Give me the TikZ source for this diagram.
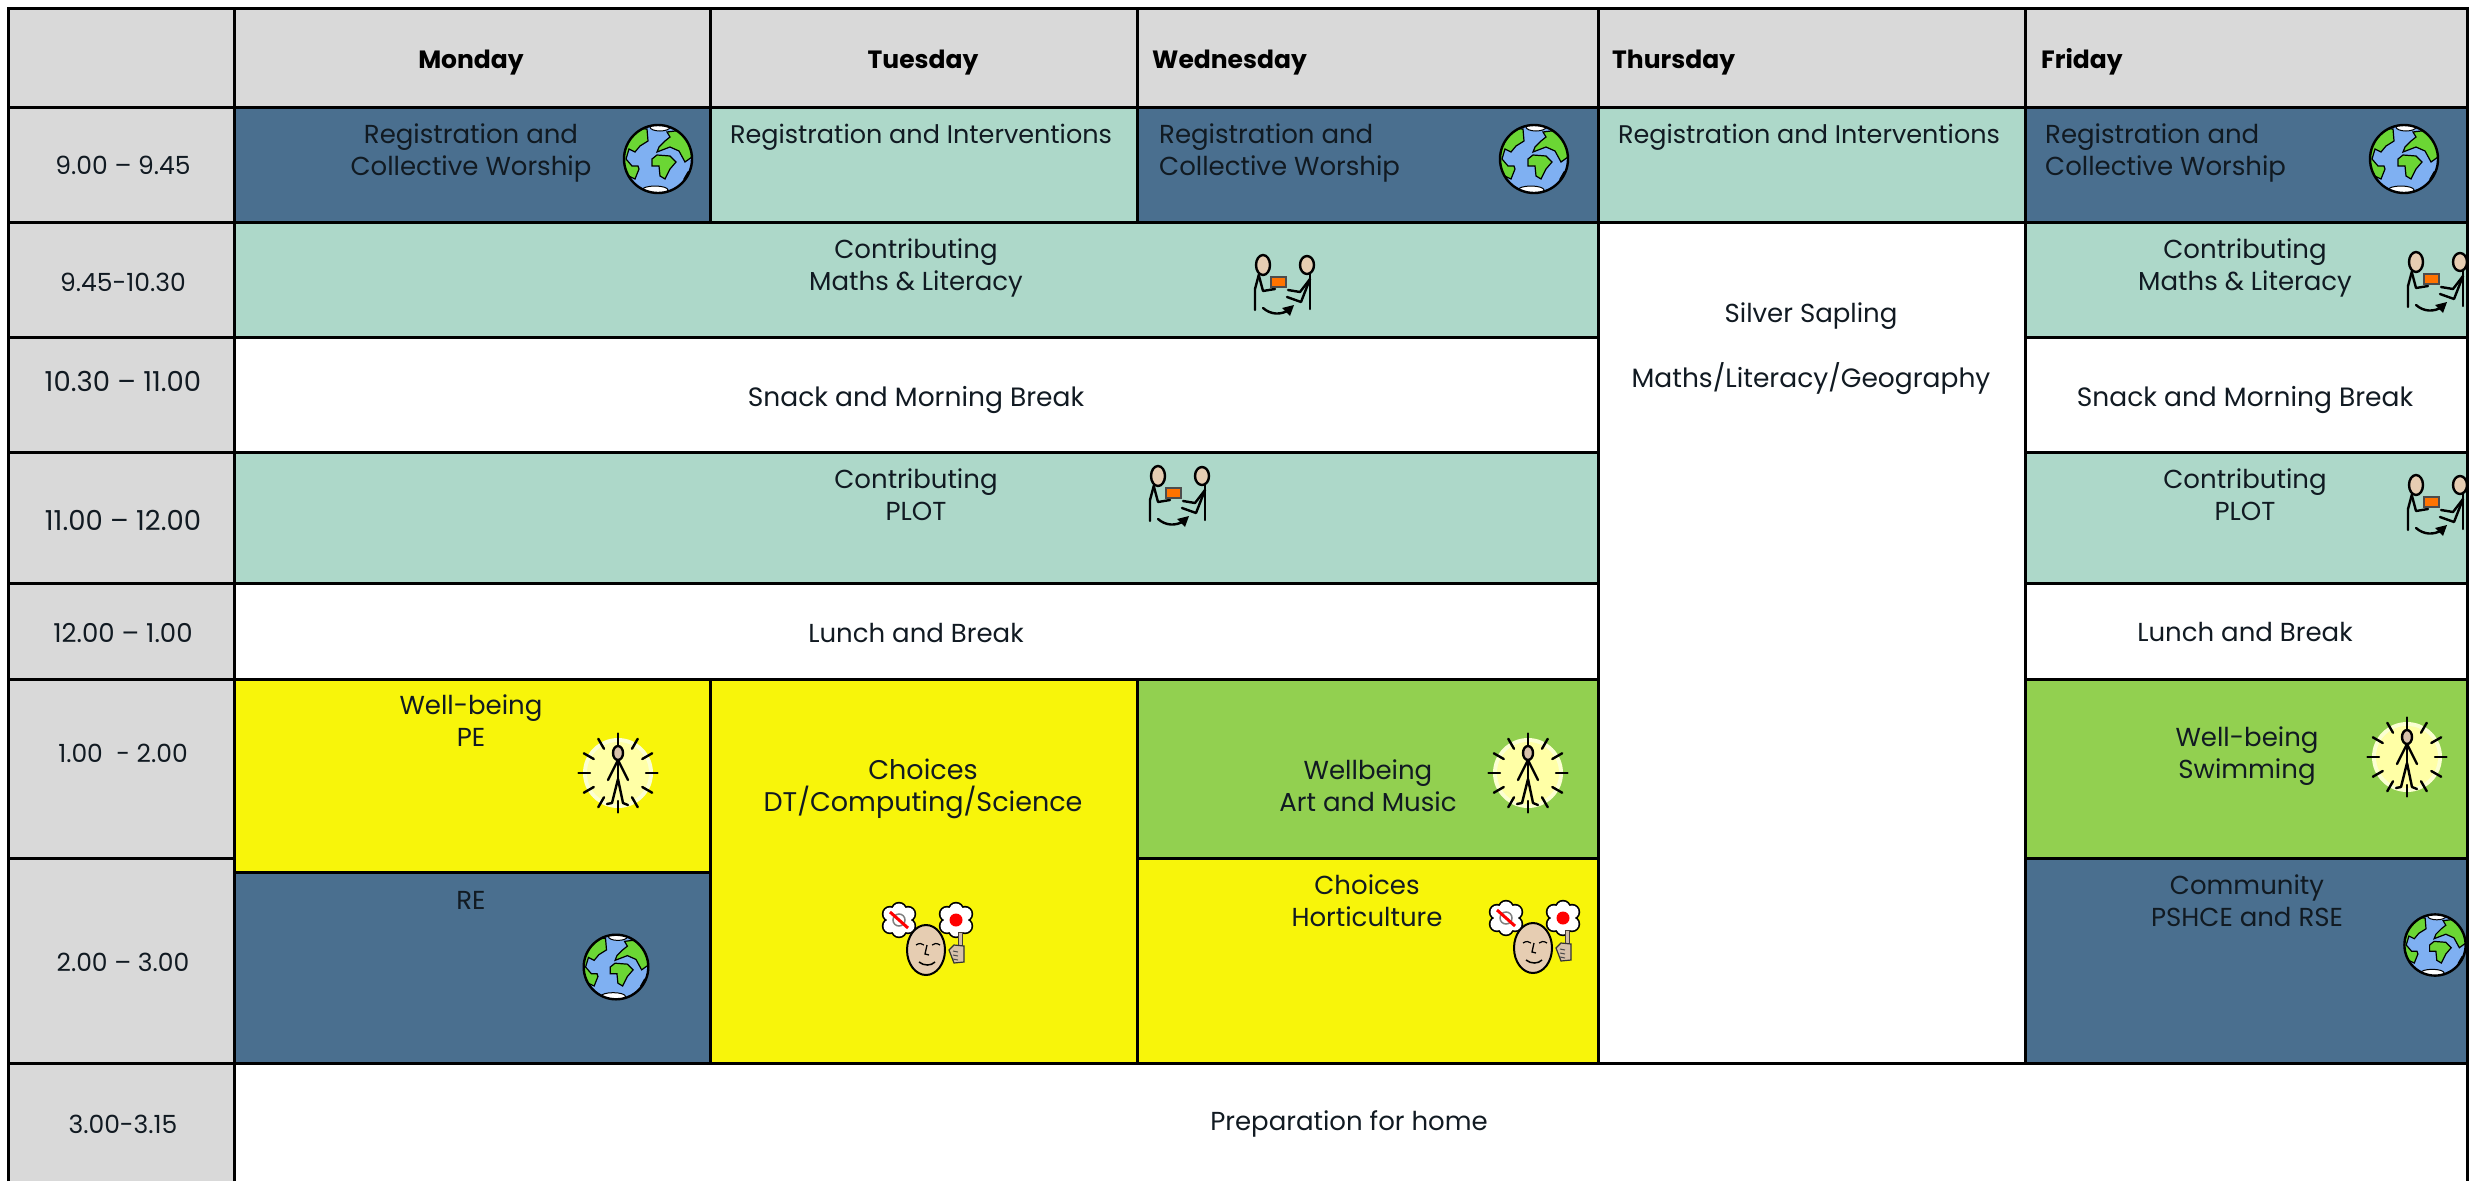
\documentclass[tikz,border=0pt]{standalone}
\usepackage{fontspec}
\setmainfont{Poppins}
\definecolor{hdr}{HTML}{D9D9D9}
\definecolor{navy}{HTML}{4A6F8F}
\definecolor{mint}{HTML}{ADD8C9}
\definecolor{yel}{HTML}{F8F50A}
\definecolor{grn}{HTML}{92D050}
\definecolor{skin}{HTML}{E6CDB2}
\definecolor{oceanb}{HTML}{7FB0F2}
\definecolor{landg}{HTML}{6BD634}
\definecolor{glow}{HTML}{FFFFA6}
\definecolor{glowedge}{HTML}{FCFFD2}
\definecolor{ink}{HTML}{111A22}
\tikzset{
  cell/.style={draw=black,line width=3pt},
  txt/.style={font=\fontsize{26}{32}\selectfont,align=center,inner sep=0pt,text=ink},
  lefttxt/.style={txt,align=left,anchor=west},
  headtxt/.style={font=\fontsize{25}{32}\selectfont\bfseries,inner sep=0pt,text=black},
  ico/.style={line width=2.4pt,draw=black,line cap=round,line join=round},
  globeicon/.pic={
    \begin{scope}
      \clip (0,0) circle (34);
      \fill[oceanb] (0,0) circle (34);
      \fill[landg,draw=black,line width=1.2pt] (-11,-30)--(-10,-18)--(-18,-13)--(-23,-7)--(-29,-10)--(-32,0)--(-26,7)--(-20,7)--(-19,10)--(-23,20)--(-40,12)--(-40,-32)--cycle;
      \fill[landg,draw=black,line width=1.2pt] (9,-27)--(17,-28)--(40,-28)--(40,0)--(34,-2)--(27,3)--(21,-8)--(12,-12)--(-1,-7)--(1,-12)--(7,-18)--(12,-22)--cycle;
      \fill[landg,draw=black,line width=1.2pt] (-6,0)--(-1,-4)--(12,-3)--(18,3)--(12,10)--(7,20)--(2,17)--(1,7)--(-6,7)--cycle;
      \fill[landg,draw=black,line width=1.2pt] (26,20)--(30,13)--(40,10)--(40,24)--cycle;
      \fill[white,draw=black,line width=1pt] (2,-32) ellipse (10 and 4);
      \fill[white,draw=black,line width=1pt] (-3,31) ellipse (13 and 4);
    \end{scope}
    \draw[black,line width=2.4pt] (0,0) circle (34);
  },
  swapicon/.pic={
    \draw[ico,fill=skin] (-20,-17) ellipse (7 and 10);
    \draw[ico,fill=skin] (24,-17) ellipse (7 and 9);
    \draw[ico] (-24,-8)--(-28,7)--(-28,28);
    \draw[ico] (-24,-6)--(-20,9)--(-8,7);
    \fill[orange!90!red,draw=black!70,line width=1.2pt] (-12,-5) rectangle (3,5);
    \draw[ico] (27,-8)--(27,27);
    \draw[ico] (27,-3)--(17,10)--(5,8);
    \draw[ico] (27,-3)--(18,20)--(4,15);
    \draw[ico] (-20,26) .. controls (-12,33) and (-2,33) .. (6,28);
    \fill[black] (11,23)--(-1,26)--(7,34)--cycle;
  },
  wellicon/.pic={
    \fill[glowedge] (1,1) circle (35);
    \fill[glow] (1,1) circle (31);
    \foreach \a in {0,30,...,330}{
      \draw[ico] (\a:28)++(1,1) -- ++(\a:11.5);
    }
    \draw[ico] (1,-12)--(1,7);
    \draw[ico] (-9,8)--(1,-12)--(11,8);
    \draw[ico] (-10,32)--(-5,31)--(1,7)--(6,31)--(11,33);
    \draw[ico,fill=skin!85!gray] (1,-19) ellipse (5 and 7);
  },
  choiceicon/.pic={
    \foreach \cx/\cy in {-29/-20,28/-20}{
      \begin{scope}[shift={(\cx,\cy)}]
        \draw[black,line width=3.4pt,fill=black] (9,-6) circle (6.5) (-9,-6) circle (6.5) (9,6) circle (6.5) (-9,6) circle (6.5) (0,-10) circle (6.5) (0,10) circle (6.5);
        \fill[white] (9,-6) circle (6.5) (-9,-6) circle (6.5) (9,6) circle (6.5) (-9,6) circle (6.5) (0,-10) circle (6.5) (0,10) circle (6.5) (0,0) circle (9);
      \end{scope}
    }
    \draw[gray,line width=1.5pt] (-29,-20) circle (6);
    \draw[red,line width=3pt] (-38,-28)--(-20,-12);
    \fill[red] (28,-20) circle (6.5);
    \draw[black,line width=2pt,fill=skin] (-2,10) ellipse (19 and 25);
    \draw[black,line width=1.2pt] (-12,5) .. controls (-9,3) and (-6,3) .. (-4,5);
    \draw[black,line width=1.2pt] (4,5) .. controls (6,3) and (9,3) .. (12,5);
    \draw[black,line width=1.3pt] (-1,5)--(-3,14)--(1,15);
    \draw[black,line width=1.5pt] (-9,22) .. controls (-4,26) and (3,26) .. (7,22);
    \draw[black!70!skin,line width=1pt,fill=skin!80!gray] (30,-8) rectangle (34,8);
    \draw[black!80,line width=1.2pt,fill=skin!85!gray] (21,10)--(26,5)--(36,6)--(36,22)--(26,23)--cycle;
    \draw[black!70,line width=1pt] (25,11)--(30,12) (25,15)--(30,16) (25,19)--(30,20);
  }
}
\begin{document}
\begin{tikzpicture}[x=1pt,y=-1pt]
\useasboundingbox (0,0) rectangle (2469,1181);
\fill[white] (0,0) rectangle (2469,1181);
% header row
\fill[hdr] (8,8) rectangle (234,1181);
\draw[cell,fill=hdr] (8,8) rectangle (234,107);
\draw[cell,fill=hdr] (234,8) rectangle (710,107);
\draw[cell,fill=hdr] (710,8) rectangle (1137,107);
\draw[cell,fill=hdr] (1137,8) rectangle (1598,107);
\draw[cell,fill=hdr] (1598,8) rectangle (2025,107);
\draw[cell,fill=hdr] (2025,8) rectangle (2467,107);
% time column
\draw[cell] (8,107) rectangle (234,222);
\draw[cell] (8,222) rectangle (234,337);
\draw[cell] (8,337) rectangle (234,452);
\draw[cell] (8,452) rectangle (234,583);
\draw[cell] (8,583) rectangle (234,679);
\draw[cell] (8,679) rectangle (234,858);
\draw[cell] (8,858) rectangle (234,1063);
\draw[cell] (8,1181) -- (8,1063) -- (234,1063) -- (234,1181);
% row 1
\draw[cell,fill=navy] (234,107) rectangle (710,222);
\draw[cell,fill=mint] (710,107) rectangle (1137,222);
\draw[cell,fill=navy] (1137,107) rectangle (1598,222);
\draw[cell,fill=mint] (1598,107) rectangle (2025,222);
\draw[cell,fill=navy] (2025,107) rectangle (2467,222);
% spans
\draw[cell,fill=mint] (234,222) rectangle (1598,337);
\draw[cell,fill=white] (234,337) rectangle (1598,452);
\draw[cell,fill=mint] (234,452) rectangle (1598,583);
\draw[cell,fill=white] (234,583) rectangle (1598,679);
\draw[cell,fill=white] (1598,222) rectangle (2025,1063);
\draw[cell,fill=mint] (2025,222) rectangle (2467,337);
\draw[cell,fill=white] (2025,337) rectangle (2467,452);
\draw[cell,fill=mint] (2025,452) rectangle (2467,583);
\draw[cell,fill=white] (2025,583) rectangle (2467,679);
% afternoon
\draw[cell,fill=yel] (234,679) rectangle (710,872);
\draw[cell,fill=navy] (234,872) rectangle (710,1063);
\draw[cell,fill=yel] (710,679) rectangle (1137,1063);
\draw[cell,fill=grn] (1137,679) rectangle (1598,858);
\draw[cell,fill=yel] (1137,858) rectangle (1598,1063);
\draw[cell,fill=grn] (2025,679) rectangle (2467,858);
\draw[cell,fill=navy] (2025,858) rectangle (2467,1063);
\draw[cell] (234,1181) -- (234,1063) -- (2467,1063) -- (2467,1181);
% headers
\node[headtxt] (hmon) at (471,63) {Monday};
\node[headtxt] (htue) at (923,63) {Tuesday};
\node[headtxt,anchor=west] (hwed) at (1152,63) {Wednesday};
\node[headtxt,anchor=west] (hthu) at (1612,63) {Thursday};
\node[headtxt,anchor=west] (hfri) at (2041,62) {Friday};
% times
\node[txt,font=\fontsize{25}{32}\selectfont] (t1) at (123,165) {9.00 – 9.45};
\node[txt,font=\fontsize{25}{32}\selectfont] (t2) at (123,282) {9.45-10.30};
\node[txt,font=\fontsize{27.5}{32}\selectfont] (t3) at (123,381) {10.30 – 11.00};
\node[txt,font=\fontsize{27.5}{32}\selectfont] (t4) at (123,520) {11.00 – 12.00};
\node[txt,font=\fontsize{26}{32}\selectfont] (t5) at (123,633) {12.00 – 1.00};
\node[txt,font=\fontsize{25}{32}\selectfont] (t6) at (123,753) {1.00 \ - 2.00};
\node[txt,font=\fontsize{25}{32}\selectfont] (t7) at (123,962) {2.00 – 3.00};
\node[txt,font=\fontsize{25}{32}\selectfont] (t8) at (123,1124) {3.00-3.15};
% morning text
\node[txt] (mreg) at (471,153) {Registration and\\Collective Worship};
\node[txt,font=\fontsize{25.5}{32}\selectfont] (treg) at (921,137) {Registration and Interventions};
\node[lefttxt] (wreg) at (1159,153) {Registration and\\Collective Worship};
\node[txt,font=\fontsize{25.5}{32}\selectfont] (threg) at (1809,137) {Registration and Interventions};
\node[lefttxt] (freg) at (2045,153) {Registration and\\Collective Worship};
\node[txt] (cm) at (916,268) {Contributing\\Maths \& Literacy};
\node[txt,font=\fontsize{26.5}{32}\selectfont] (snack) at (916,400) {Snack and Morning Break};
\node[txt] (cp) at (916,495) {Contributing\\PLOT};
\node[txt] (lunch) at (916,633) {Lunch and Break};
\node[txt] (fcm) at (2245,268) {Contributing\\Maths \& Literacy};
\node[txt,font=\fontsize{26.5}{32}\selectfont] (fsnack) at (2245,400) {Snack and Morning Break};
\node[txt] (fcp) at (2245,495) {Contributing\\PLOT};
\node[txt] (flunch) at (2245,632) {Lunch and Break};
\node[txt] (silver) at (1811,316) {Silver Sapling};
\node[txt,font=\fontsize{26.5}{32}\selectfont] (mlg) at (1811,379) {Maths/Literacy/Geography};
% afternoon text
\node[txt] (pe) at (471,721) {Well-being\\PE};
\node[txt] (re) at (471,900) {RE};
\node[txt,font=\fontsize{27}{32}\selectfont] (dt) at (923,789) {Choices\\DT/Computing/Science};
\node[txt] (art) at (1368,786) {Wellbeing\\Art and Music};
\node[txt] (hort) at (1367,901) {Choices\\Horticulture};
\node[txt] (swim) at (2247,756) {Well-being\\Swimming};
\node[txt] (comm) at (2247,901) {Community\\PSHCE and RSE};
\node[txt] (home) at (1349,1124) {Preparation for home};
% icons
\pic at (658,159) {globeicon};
\pic at (1534,159) {globeicon};
\pic at (2404,159) {globeicon};
\pic[scale=.95] at (616,967) {globeicon};
\pic[scale=.9] at (2435,945) {globeicon};
\pic at (1283,282) {swapicon};
\pic at (1178,493) {swapicon};
\pic at (2436,279) {swapicon};
\pic at (2436,502) {swapicon};
\pic at (617,772) {wellicon};
\pic at (1527,772) {wellicon};
\pic at (2406,756) {wellicon};
\pic at (928,940) {choiceicon};
\pic at (1535,938) {choiceicon};
\end{tikzpicture}
\end{document}
